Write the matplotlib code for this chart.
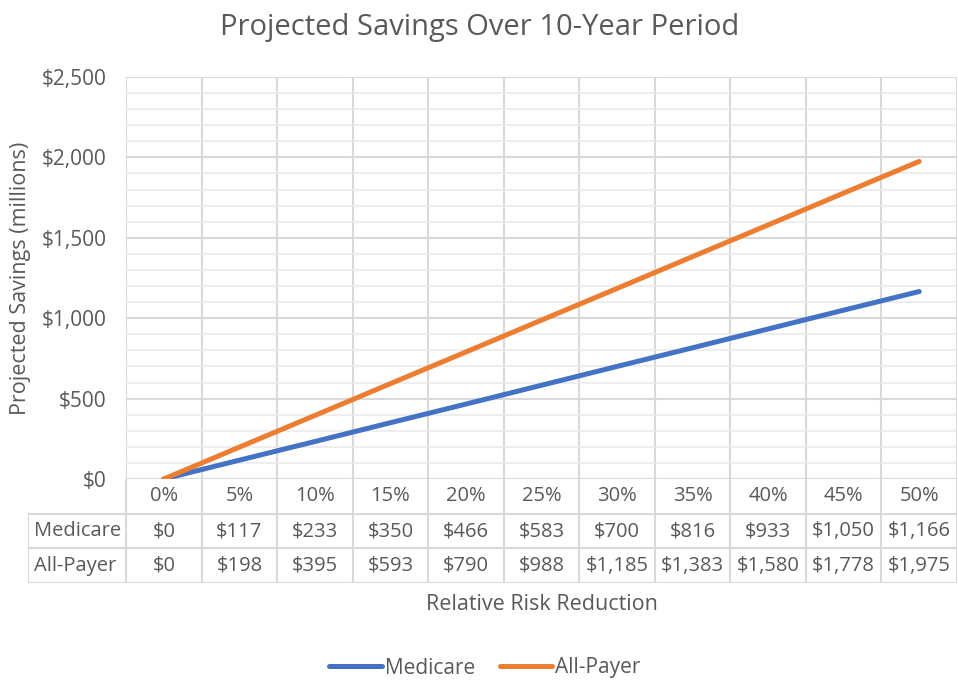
import matplotlib.pyplot as plt
from matplotlib.ticker import MultipleLocator, FuncFormatter

reduction = ["0%", "5%", "10%", "15%", "20%", "25%", "30%", "35%", "40%", "45%", "50%"]
medicare = [0, 117, 233, 350, 466, 583, 700, 816, 933, 1050, 1166]
all_payer = [0, 198, 395, 593, 790, 988, 1185, 1383, 1580, 1778, 1975]
series_names = ["Medicare", "All-Payer"]

TEXT = "#595959"
GRID = "#d9d9d9"
FS = 14.5
plt.rcParams["font.family"] = ["Open Sans", "DejaVu Sans"]

W, H = 958, 681
fig = plt.figure(figsize=(W / 100, H / 100), dpi=100)


def box(x0, y0, x1, y1):
    # pixel box (top-left origin) -> figure fraction rect
    return [x0 / W, 1 - y1 / H, (x1 - x0) / W, (y1 - y0) / H]


n = len(reduction)
x = list(range(n))

ax = fig.add_axes(box(126, 77, 957, 479))
ax.plot(x, medicare, color="#4472C4", lw=3.6, solid_capstyle="round", label=series_names[0], zorder=3)
ax.plot(x, all_payer, color="#ED7D31", lw=3.6, solid_capstyle="round", label=series_names[1], zorder=3)
ax.set_xlim(-0.5, n - 0.5)
ax.set_ylim(0, 2500)
ax.yaxis.set_major_locator(MultipleLocator(500))
ax.yaxis.set_minor_locator(MultipleLocator(100))
ax.yaxis.set_major_formatter(FuncFormatter(lambda v, p: f"${v:,.0f}"))
ax.grid(axis="y", which="major", color=GRID, lw=1.5)
ax.grid(axis="y", which="minor", color="#e9e9e9", lw=1.1)
for b in range(n + 1):
    ax.axvline(b - 0.5, color=GRID, lw=1.5, zorder=1)
ax.set_xticks([])
ax.tick_params(axis="y", which="both", length=0, labelsize=15, labelcolor=TEXT, pad=14)
for s in ax.spines.values():
    s.set_visible(False)
ax.set_ylabel("Projected Savings (millions)", fontsize=15.5, color=TEXT)
ax.yaxis.set_label_coords(-(126 - 31) / (957 - 126), 0.5)

# data table under the plot
label_w = (126 - 28) / ((957 - 126) / n)
tab = fig.add_axes(box(28, 479, 957, 583))
tab.set_xlim(-0.5 - label_w, n - 0.5)
tab.set_ylim(3, 0)
tab.axis("off")
for r in (1, 2, 3):
    tab.plot([-0.5 - label_w, n - 0.5], [r, r], color=GRID, lw=1.5)
tab.plot([-0.5 - label_w] * 2, [1, 3], color=GRID, lw=1.5)
for b in range(n + 1):
    tab.plot([b - 0.5] * 2, [0, 3], color=GRID, lw=1.5)
for i, lab in enumerate(reduction):
    tab.text(i, 0.5, lab, ha="center", va="center", fontsize=FS, color=TEXT)
rows = [medicare, all_payer]
for r, (name, vals) in enumerate(zip(series_names, rows), start=1):
    tab.text(-0.5 - label_w + 0.08, r + 0.5, name, ha="left", va="center", fontsize=FS, color=TEXT)
    for i, v in enumerate(vals):
        tab.text(i, r + 0.5, f"${v:,}", ha="center", va="center", fontsize=FS, color=TEXT)

fig.text(542 / W, 1 - 604 / H, "Relative Risk Reduction", ha="center", va="center",
         fontsize=15.5, color=TEXT)
fig.text(480 / W, 1 - 27 / H, "Projected Savings Over 10-Year Period", ha="center", va="center",
         fontsize=21, color=TEXT)

leg = fig.legend(*ax.get_legend_handles_labels(), loc="center", bbox_to_anchor=(485 / W, 1 - 668 / H),
                 ncol=2, frameon=False, fontsize=15, handlelength=2.5, handletextpad=0.15,
                 columnspacing=1.2, labelcolor=TEXT)

fig.savefig("out.png", dpi=100)
